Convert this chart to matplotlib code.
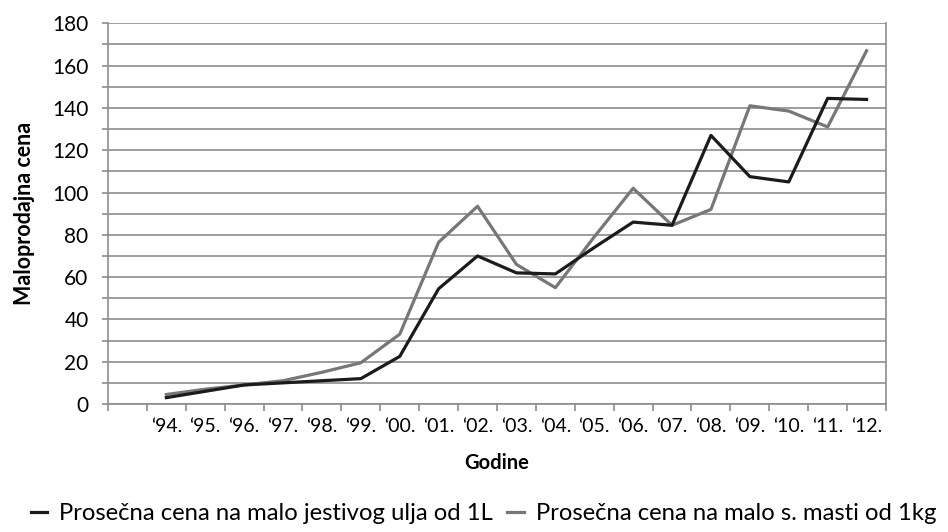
import numpy as np
import matplotlib
matplotlib.use("Agg")
import matplotlib.pyplot as plt
from matplotlib.ticker import MultipleLocator

plt.rcParams["font.family"] = ["Lato", "DejaVu Sans"]

# first category slot is empty in the original chart
years = ["", "\u201894.", "\u201895.", "\u201896.", "\u201897.", "\u201898.", "\u201899.",
         "\u201800.", "\u201801.", "\u201802.", "\u201803.", "\u201804.", "\u201805.",
         "\u201806.", "\u201807.", "\u201808.", "\u201809.", "\u201810.", "\u201811.",
         "\u201812."]
ulje = [3, 6, 9, 10, 11, 12, 22.5, 54.5, 70, 62, 61.5, 74, 86, 84.5,
        127, 107.5, 105, 144.5, 144]
mast = [4.5, 7, 9, 11, 15, 19.5, 33, 76.5, 93.5, 66, 55, 79, 102, 84.5,
        92, 141, 138.5, 131, 167]
label_ulje = "Prosečna cena na malo jestivog ulja od 1L"
label_mast = "Prosečna cena na malo s. masti od 1kg"

fig = plt.figure(figsize=(9.48, 5.32), dpi=100)
ax = fig.add_axes([0.1139, 0.2406, 0.8207, 0.7156])

x = np.arange(1, len(ulje) + 1)
ax.plot(x, ulje, color="#1c1a1b", lw=2.3, label=label_ulje, zorder=3)
ax.plot(x, mast, color="#777777", lw=2.3, label=label_mast, zorder=2)

ax.set_xlim(-0.5, len(years) - 0.5)
ax.set_ylim(0, 180)
ax.yaxis.set_major_locator(MultipleLocator(20))
ax.yaxis.set_minor_locator(MultipleLocator(10))
ax.grid(axis="y", which="both", color="#8c8c8c", lw=1.2)
ax.set_axisbelow(True)

ax.set_xticks(np.arange(len(years)))
ax.set_xticklabels(years, fontsize=14)
ax.set_xticks(np.arange(len(years) + 1) - 0.5, minor=True)
ax.tick_params(axis="x", which="major", length=0, pad=10)
ax.tick_params(axis="x", which="minor", length=5, color="#8c8c8c", width=1.2)
ax.tick_params(axis="y", which="both", length=4, color="#8c8c8c", width=1.2,
               labelsize=15, pad=10)

for side in ["left", "right", "bottom"]:
    ax.spines[side].set_color("#8c8c8c")
    ax.spines[side].set_linewidth(1.2)
ax.spines["top"].set_visible(False)

ax.set_xlabel("Godine", fontsize=14.5, fontweight="bold", labelpad=13)
ax.set_ylabel("Maloprodajna cena", fontsize=15.5, fontweight="bold", labelpad=12)

fig.legend(loc="center", bbox_to_anchor=(0.51, 0.035), ncol=2, frameon=False,
           fontsize=17.2, handlelength=0.7, handletextpad=0.5, columnspacing=0.6)

fig.savefig("out.png", dpi=100)
